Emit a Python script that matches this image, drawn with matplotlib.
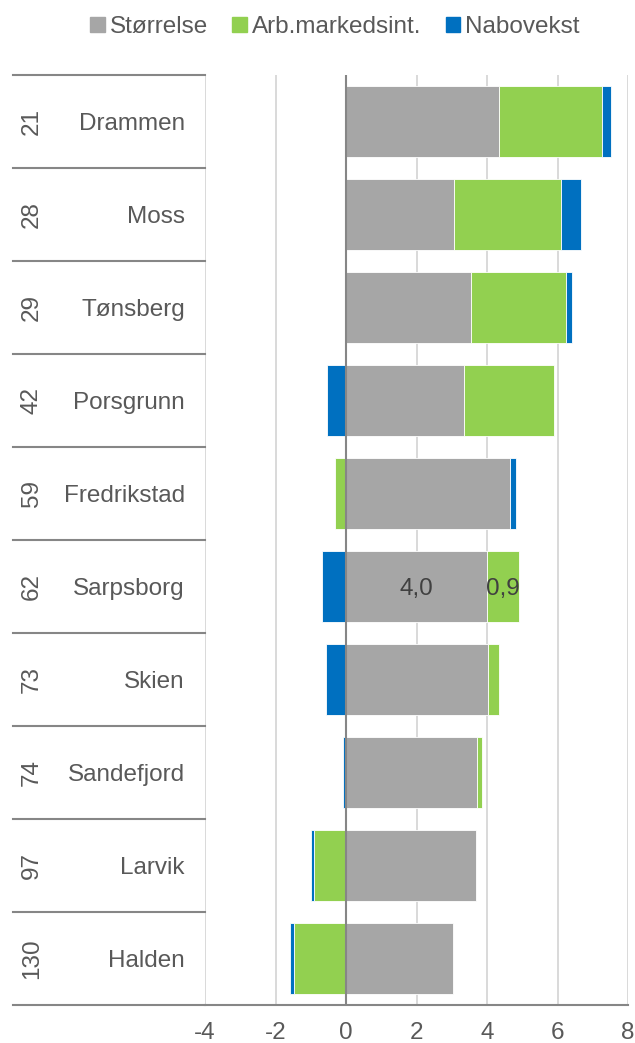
import matplotlib.pyplot as plt
import numpy as np
from matplotlib.patches import Patch

plt.rcParams['font.family'] = ['Liberation Sans', 'DejaVu Sans']

# data
rank = ['21', '28', '29', '42', '59', '62', '73', '74', '97', '130']
byer = ['Drammen', 'Moss', 'Tønsberg', 'Porsgrunn', 'Fredrikstad',
        'Sarpsborg', 'Skien', 'Sandefjord', 'Larvik', 'Halden']
storrelse = [4.34, 3.07, 3.56, 3.35, 4.65, 4.0, 4.04, 3.73, 3.69, 3.04]
arbmarked = [2.91, 3.03, 2.68, 2.54, -0.32, 0.9, 0.30, 0.13, -0.91, -1.48]
nabovekst = [0.27, 0.57, 0.18, -0.55, 0.18, -0.67, -0.56, -0.09, -0.08, -0.11]
serier = ['Størrelse', 'Arb.markedsint.', 'Nabovekst']
farger = ['#A6A6A6', '#92D050', '#0070C0']
xticks = [-4, -2, 0, 2, 4, 6, 8]

W, H = 635, 1043
fig = plt.figure(figsize=(W / 100, H / 100), dpi=100)
ax = fig.add_axes([205 / W, 1 - 1005 / H, 423 / W, 930 / H])

y = np.arange(len(byer))
pos = np.zeros(len(byer))
neg = np.zeros(len(byer))
for verdier, farge in zip([storrelse, arbmarked, nabovekst], farger):
    v = np.array(verdier)
    start = np.where(v >= 0, pos, neg)
    ax.barh(y, v, left=start, height=0.77, color=farge, edgecolor='white',
            linewidth=0.6, zorder=3)
    pos = pos + np.where(v >= 0, v, 0)
    neg = neg + np.where(v < 0, v, 0)

# dataetiketter for Sarpsborg
i = byer.index('Sarpsborg')
ax.text(storrelse[i] / 2, i, '4,0', ha='center', va='center_baseline',
        fontsize=17.5, color='#404040', zorder=4)
ax.text(storrelse[i] + arbmarked[i] / 2, i, '0,9', ha='center',
        va='center_baseline', fontsize=17.5, color='#404040', zorder=4)

ax.set_xlim(-4, 8)
ax.set_ylim(len(byer) - 0.5, -0.5)
ax.set_xticks(xticks)
ax.set_xticklabels([str(t) for t in xticks])
ax.tick_params(axis='x', length=0, labelsize=17.5, labelcolor='#595959', pad=12)
ax.set_yticks([])
ax.grid(axis='x', color='#D9D9D9', linewidth=1.4, zorder=0)
ax.axvline(0, color='#868686', linewidth=1.5, zorder=5)
for s in ['top', 'right', 'left']:
    ax.spines[s].set_visible(False)
ax.spines['bottom'].set_color('#868686')
ax.spines['bottom'].set_linewidth(1.5)

# kategoritabell til venstre
tr = ax.get_yaxis_transform()
x0 = (13 - 205) / 423
for k in range(len(byer) + 1):
    ax.plot([x0, 0], [k - 0.5, k - 0.5], color='#868686', linewidth=1.5,
            transform=tr, clip_on=False)
for k in range(len(byer)):
    ax.text((185 - 205) / 423, k, byer[k], ha='right', va='center_baseline',
            fontsize=17.5, color='#595959', transform=tr)
    ax.text((32 - 205) / 423, k, rank[k], ha='center', va='center',
            fontsize=17.5, color='#595959', rotation=90, transform=tr)

handles = [Patch(color=f) for f in farger]
fig.legend(handles, serier, loc='center', bbox_to_anchor=(335 / W, 1 - 27 / H),
           ncol=3, frameon=False, fontsize=17.5, labelcolor='#595959',
           handlelength=0.6, handleheight=0.6, handletextpad=0.2,
           columnspacing=1.0)

fig.savefig('out.png', dpi=100)
